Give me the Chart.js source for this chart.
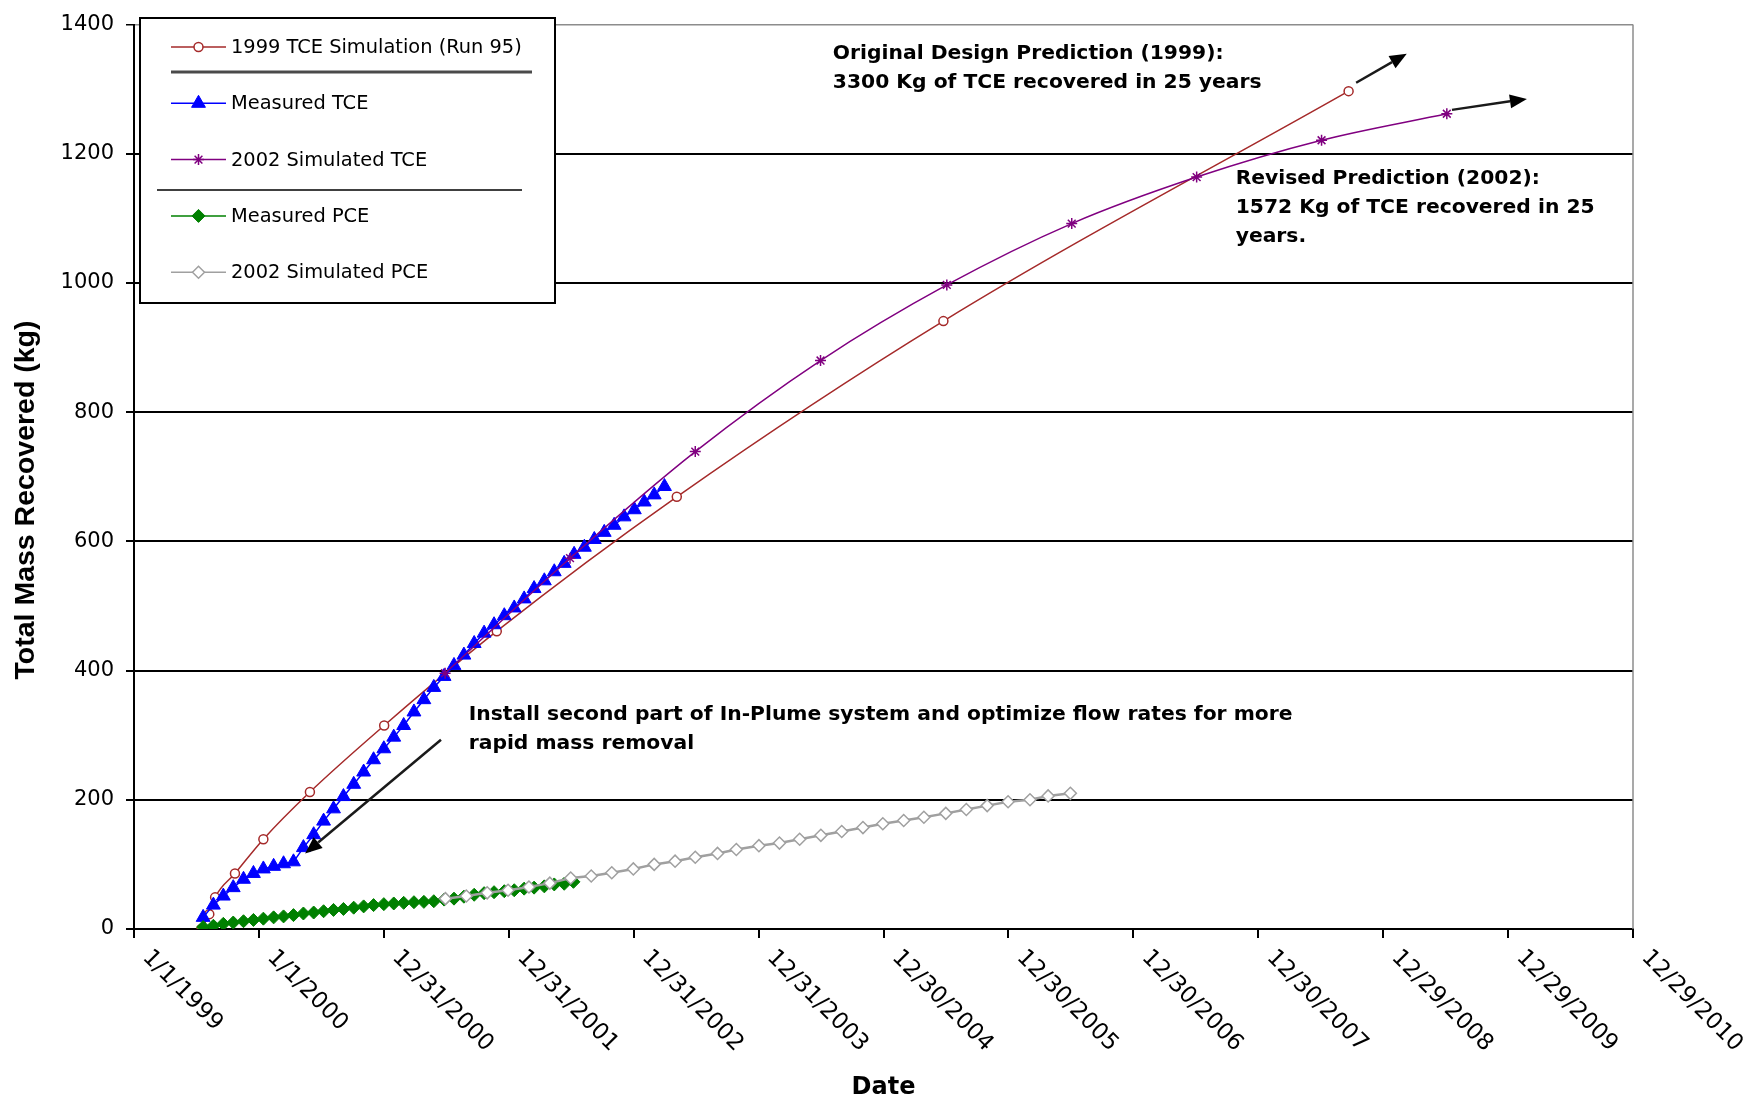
<!DOCTYPE html>
<html>
<head>
<meta charset="utf-8">
<script src="https://cdn.jsdelivr.net/npm/chart.js"></script>
<style>
  html, body { margin: 0; padding: 0; background: #ffffff; }
  #wrap { width: 1750px; height: 1100px; position: relative; }
</style>
</head>
<body>
<div id="wrap"><canvas id="chart"></canvas></div>
<script>
// ---------------- DATA (x = days counted from 1 Jan 1999) ----------------
const xTickLabels = ['1/1/1999', '1/1/2000', '12/31/2000', '12/31/2001', '12/31/2002', '12/31/2003',
  '12/30/2004', '12/30/2005', '12/30/2006', '12/30/2007', '12/29/2008', '12/29/2009', '12/29/2010'];

const seriesNames = ['1999 TCE Simulation (Run 95)', 'Measured TCE', '2002 Simulated TCE',
  'Measured PCE', '2002 Simulated PCE'];

const sim1999TceDays = [197, 220, 237, 295, 378, 514, 731, 1060, 1586, 2365, 3549];
const sim1999Tce     = [0, 23, 49, 86, 139, 212, 315, 461, 669, 941, 1297];

const measuredTceDays = [202, 232, 261, 290, 320, 349, 378, 408, 437, 466, 495, 525, 554, 583, 612,
  642, 671, 700, 730, 759, 788, 818, 847, 876, 906, 935, 964, 994, 1023, 1052, 1082, 1111, 1140,
  1169, 1199, 1228, 1257, 1286, 1316, 1345, 1374, 1403, 1432, 1462, 1491, 1520, 1550];
const measuredTce = [18, 37, 51, 64, 77, 86, 93, 97, 101, 104, 126, 146, 167, 186, 205,
  224, 243, 262, 279, 297, 315, 336, 355, 374, 391, 408, 424, 442, 458, 471, 485, 497, 511,
  527, 539, 553, 566, 580, 591, 603, 614, 625, 638, 649, 661, 672, 685];

const sim2002TceDays = [909, 1274, 1640, 2006, 2375, 2740, 3105, 3470, 3836];
const sim2002Tce     = [396, 574, 739, 880, 997, 1092, 1164, 1221, 1262];

const measuredPceDays = [202, 232, 261, 290, 320, 349, 378, 408, 437, 466, 495, 525, 554, 583, 612,
  642, 671, 700, 730, 759, 788, 818, 847, 876, 906, 935, 964, 994, 1023, 1052, 1082, 1111, 1140,
  1169, 1199, 1228, 1257, 1284];
const measuredPce = [3, 5, 8, 10, 12, 14, 16, 18, 19.5, 21.5, 24, 25.5, 27.5, 29.5, 31,
  33, 35, 37, 38.5, 39.5, 40.5, 41.5, 42, 43, 45.5, 47, 50, 53, 55.5, 57, 58.5, 60, 62.5,
  64, 66, 69, 70, 73];

const sim2002PceDays = [910, 971, 1032, 1093, 1154, 1215, 1276, 1336, 1396, 1459, 1520, 1581, 1640,
  1705, 1760, 1826, 1886, 1945, 2007, 2068, 2130, 2188, 2249, 2308, 2372, 2432, 2493, 2554,
  2618, 2671, 2736];
const sim2002Pce = [47, 51, 56, 60, 65, 71, 79, 82, 87, 93, 100, 105, 111,
  117, 123, 129, 133, 139, 145, 151, 157, 163, 168, 173, 179, 185, 191, 197,
  200, 206, 210];

// annotation anchors in data units (day, kg)
const noteTexts = [
  ['Original Design Prediction (1999):', '3300 Kg of TCE recovered in 25 years'],
  ['Revised Prediction (2002):', '1572 Kg of TCE recovered in 25', 'years.'],
  ['Install second part of In-Plume system and optimize flow rates for more', 'rapid mass removal']
];
const noteDays   = [2042, 3219, 978];
const noteValues = [1355, 1161, 331];
const arrowFromDays = [3571, 3851, 897];
const arrowFromVals = [1310, 1268, 293];
const arrowToDays   = [3719, 4070, 500];
const arrowToVals   = [1355, 1285, 117];

// ---------------- STYLE ----------------
const FONT = "'DejaVu Sans', Verdana, sans-serif";
const TITLE_FONT = "'Liberation Sans', Arial, sans-serif";
const pts = (xs, ys) => xs.map((x, i) => ({ x: x, y: ys[i] }));

const seriesStyle = [
  { color: '#A52A2A', fill: '#ffffff', style: 'circle',   r: 4.5, bw: 1.5, lw: 1.5, smooth: true,  order: 5 },
  { color: '#0000FF', fill: '#0000FF', style: 'triangle', r: 8,   bw: 1,   lw: 1.5, smooth: false, order: 4 },
  { color: '#800080', fill: '#800080', style: 'star',     r: 5.5, bw: 1.5, lw: 1.5, smooth: true,  order: 3 },
  { color: '#008000', fill: '#008000', style: 'rectRot',  r: 6.5, bw: 1,   lw: 1.5, smooth: false, order: 2 },
  { color: '#A0A0A0', fill: '#ffffff', style: 'rectRot',  r: 6,   bw: 1.5, lw: 2.5, smooth: false, order: 1 }
];
const seriesData = [
  pts(sim1999TceDays, sim1999Tce),
  pts(measuredTceDays, measuredTce),
  pts(sim2002TceDays, sim2002Tce),
  pts(measuredPceDays, measuredPce),
  pts(sim2002PceDays, sim2002Pce)
];

const datasets = seriesNames.map((name, i) => {
  const s = seriesStyle[i];
  return {
    label: name,
    data: seriesData[i],
    borderColor: s.color,
    backgroundColor: s.fill,
    borderWidth: s.lw,
    pointStyle: s.style,
    pointRadius: s.r,
    pointBorderWidth: s.bw,
    pointBorderColor: s.color,
    pointBackgroundColor: s.fill,
    cubicInterpolationMode: s.smooth ? 'monotone' : 'default',
    tension: 0,
    fill: false,
    order: s.order
  };
});

function drawMarker(ctx, style, r, x, y, fill, stroke, lw) {
  ctx.save();
  ctx.fillStyle = fill; ctx.strokeStyle = stroke; ctx.lineWidth = lw;
  ctx.beginPath();
  if (style === 'circle') {
    ctx.arc(x, y, r, 0, Math.PI * 2);
    ctx.fill(); ctx.stroke();
  } else if (style === 'triangle') {
    for (let k = 0; k < 3; k++) {
      const ang = k * 2 * Math.PI / 3;
      const px = x + Math.sin(ang) * r, py = y - Math.cos(ang) * r;
      if (k === 0) ctx.moveTo(px, py); else ctx.lineTo(px, py);
    }
    ctx.closePath(); ctx.fill(); ctx.stroke();
  } else if (style === 'rectRot') {
    ctx.moveTo(x - r, y); ctx.lineTo(x, y - r); ctx.lineTo(x + r, y); ctx.lineTo(x, y + r);
    ctx.closePath(); ctx.fill(); ctx.stroke();
  } else if (style === 'star') {
    for (let k = 0; k < 4; k++) {
      const ang = k * Math.PI / 4;
      ctx.moveTo(x - Math.cos(ang) * r, y - Math.sin(ang) * r);
      ctx.lineTo(x + Math.cos(ang) * r, y + Math.sin(ang) * r);
    }
    ctx.stroke();
  }
  ctx.restore();
}

function drawArrow(ctx, x1, y1, x2, y2) {
  const ang = Math.atan2(y2 - y1, x2 - x1);
  const len = 17, half = 7;
  const bx = x2 - Math.cos(ang) * len, by = y2 - Math.sin(ang) * len;
  ctx.save();
  ctx.strokeStyle = '#1a1a1a'; ctx.fillStyle = '#000000'; ctx.lineWidth = 2.5;
  ctx.beginPath(); ctx.moveTo(x1, y1); ctx.lineTo(bx, by); ctx.stroke();
  ctx.beginPath();
  ctx.moveTo(x2, y2);
  ctx.lineTo(bx + Math.sin(ang) * half, by - Math.cos(ang) * half);
  ctx.lineTo(bx - Math.sin(ang) * half, by + Math.cos(ang) * half);
  ctx.closePath(); ctx.fill();
  ctx.restore();
}

const decorPlugin = {
  id: 'decor',
  beforeDatasetsDraw(chart) {
    const { ctx, chartArea: a } = chart;
    ctx.save();
    ctx.strokeStyle = '#8c8c8c'; ctx.lineWidth = 1.5;
    ctx.beginPath(); ctx.moveTo(a.right, a.top); ctx.lineTo(a.right, a.bottom); ctx.stroke();
    ctx.restore();
  },
  afterDraw(chart) {
    const { ctx, chartArea: a } = chart;
    const xs = chart.scales.x, ys = chart.scales.y;

    // rotated date labels (text running down to the right from each tick)
    ctx.save();
    ctx.fillStyle = '#000'; ctx.font = '23px ' + FONT;
    ctx.textAlign = 'left'; ctx.textBaseline = 'top';
    xs.ticks.forEach((t, i) => {
      const px = xs.getPixelForValue(t.value);
      ctx.save();
      ctx.translate(px + 20, a.bottom + 17);
      ctx.rotate(Math.PI / 4);
      ctx.fillText(xTickLabels[i] || '', 0, 0);
      ctx.restore();
    });
    ctx.restore();

    // y axis title
    ctx.save();
    ctx.fillStyle = '#000'; ctx.font = 'bold 28.5px ' + TITLE_FONT;
    ctx.textAlign = 'center'; ctx.textBaseline = 'middle';
    ctx.translate(26, 500); ctx.rotate(-Math.PI / 2);
    ctx.fillText('Total Mass Recovered (kg)', 0, 0);
    ctx.restore();

    // annotation texts
    ctx.save();
    ctx.fillStyle = '#000'; ctx.font = 'bold 20.3px ' + FONT;
    ctx.textAlign = 'left'; ctx.textBaseline = 'middle';
    noteTexts.forEach((lines, i) => {
      const px = xs.getPixelForValue(noteDays[i]);
      const py = ys.getPixelForValue(noteValues[i]);
      lines.forEach((ln, j) => ctx.fillText(ln, px, py + j * 29));
    });
    ctx.restore();

    // arrows
    arrowFromDays.forEach((d, i) => {
      drawArrow(ctx, xs.getPixelForValue(d), ys.getPixelForValue(arrowFromVals[i]),
        xs.getPixelForValue(arrowToDays[i]), ys.getPixelForValue(arrowToVals[i]));
    });

    // legend box
    const L = { left: 140, top: 18, right: 555, bottom: 303 };
    ctx.save();
    ctx.fillStyle = '#ffffff';
    ctx.fillRect(L.left, L.top, L.right - L.left, L.bottom - L.top);
    ctx.strokeStyle = '#000'; ctx.lineWidth = 2;
    ctx.strokeRect(L.left, L.top, L.right - L.left, L.bottom - L.top);
    ctx.font = '19.4px ' + FONT; ctx.textBaseline = 'middle'; ctx.textAlign = 'left';
    seriesNames.forEach((name, i) => {
      const s = seriesStyle[i];
      const yy = 47 + i * 56.3;
      ctx.strokeStyle = s.color; ctx.lineWidth = 1.5;
      ctx.beginPath(); ctx.moveTo(171, yy); ctx.lineTo(226, yy); ctx.stroke();
      drawMarker(ctx, s.style, s.r, 198.5, yy, s.fill, s.color, s.bw);
      ctx.fillStyle = '#000';
      ctx.fillText(name, 231, yy + 1);
    });
    // separator rules inside the legend
    ctx.strokeStyle = '#4a4a4a'; ctx.lineWidth = 3;
    ctx.beginPath(); ctx.moveTo(171, 72); ctx.lineTo(532, 72); ctx.stroke();
    ctx.strokeStyle = '#000'; ctx.lineWidth = 1.5;
    ctx.beginPath(); ctx.moveTo(157, 190); ctx.lineTo(522, 190); ctx.stroke();
    ctx.restore();
  }
};

Chart.defaults.font.family = FONT;
Chart.defaults.color = '#000';

new Chart(document.getElementById('chart'), {
  type: 'line',
  data: { datasets: datasets },
  plugins: [decorPlugin],
  options: {
    responsive: true,
    maintainAspectRatio: false,
    animation: false,
    events: [],
    layout: { padding: { top: 20, right: 117, bottom: 0, left: 0 } },
    plugins: { legend: { display: false }, tooltip: { enabled: false } },
    scales: {
      x: {
        type: 'linear',
        min: 0, max: 4380,
        afterFit: (s) => { s.height = 171; },
        ticks: { stepSize: 365, display: false, callback: (v, i) => xTickLabels[i] },
        grid: { drawOnChartArea: false, drawTicks: true, tickLength: 9, color: '#000', lineWidth: 2 },
        border: { display: true, color: '#000', width: 2 },
        title: { display: true, text: 'Date', color: '#000',
          font: { family: FONT, size: 24, weight: 'bold', lineHeight: 1.0 }, padding: 0 }
      },
      y: {
        type: 'linear',
        min: 0, max: 1400,
        afterFit: (s) => { s.width = 134; },
        ticks: { stepSize: 200, padding: 12, color: '#000', font: { family: FONT, size: 21 },
          callback: (v) => String(v) },
        grid: {
          color: (c) => (c.tick && c.tick.value === 1400 ? '#8c8c8c' : '#000'),
          lineWidth: (c) => (c.tick && c.tick.value === 1400 ? 1.5 : 2),
          tickColor: '#000', tickLength: 8
        },
        border: { display: true, color: '#000', width: 2 }
      }
    }
  }
});
</script>
</body>
</html>
